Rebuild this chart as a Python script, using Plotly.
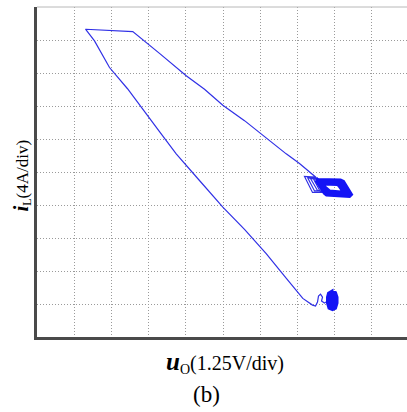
import plotly.graph_objects as go

# ---- data (oscilloscope divisions: x = u_O, y = i_L) ----
path_x = [7.836, 7.728, 7.648, 7.675, 7.621, 7.567, 7.540, 7.487, 7.406, 7.145, 6.653, 6.161,
          5.578, 4.995, 4.368, 3.742, 3.293, 2.935, 2.433, 1.949, 1.546, 1.304,
          1.949, 2.575,
          3.293, 4.011, 4.503, 4.995, 5.578, 6.070, 6.699, 7.056, 7.414,
          7.487, 7.728, 7.406, 7.191, 7.487,
          7.272, 7.540, 7.728, 7.460, 7.272,
          7.352, 7.567, 7.755, 7.540, 7.352,
          7.433, 7.594, 7.782, 7.621, 7.433,
          7.540]
path_y = [1.118, 1.027, 1.088, 1.208, 1.299, 1.239, 1.057, 0.937, 0.967, 1.169, 1.843, 2.529,
          3.263, 3.937, 4.743, 5.550, 6.224, 6.758, 7.523, 8.166, 8.973, 9.326,
          9.290, 9.254,
          8.595, 7.915, 7.508, 7.024, 6.556, 6.103, 5.550, 5.257, 4.894,
          4.849, 4.381, 4.381, 4.864, 4.849,
          4.834, 4.819, 4.426, 4.426, 4.834,
          4.804, 4.789, 4.411, 4.441, 4.804,
          4.789, 4.773, 4.350, 4.396, 4.789,
          4.773]

loop_x = [7.540, 8.159, 8.239, 8.454, 8.401, 7.782, 7.728, 7.513, 7.540,
          7.594, 8.132, 8.185, 8.374, 8.320, 7.809, 7.755, 7.567, 7.594,
          7.648, 8.105, 8.159, 8.293, 8.239, 7.836, 7.782, 7.621, 7.648,
          7.702, 8.078, 8.118, 8.212, 8.172, 7.863, 7.823, 7.675, 7.702]
loop_y = [4.773, 4.758, 4.713, 4.320, 4.260, 4.305, 4.350, 4.713, 4.773,
          4.728, 4.713, 4.668, 4.350, 4.305, 4.350, 4.396, 4.683, 4.728,
          4.683, 4.668, 4.622, 4.381, 4.350, 4.396, 4.441, 4.637, 4.683,
          4.637, 4.622, 4.577, 4.426, 4.396, 4.426, 4.471, 4.607, 4.637]

blob_x = [7.930, 8.024, 8.065, 8.065, 8.024, 7.944, 7.849, 7.809, 7.809, 7.836, 7.930,
          7.930, 7.997, 8.011, 7.997, 7.944, 7.876, 7.863, 7.876, 7.930,
          7.930, 7.962, 7.957, 7.917, 7.903, 7.930, 7.836]
blob_y = [1.390, 1.344, 1.208, 1.027, 0.876, 0.831, 0.876, 1.027, 1.208, 1.329, 1.390,
          1.299, 1.254, 1.118, 0.967, 0.921, 0.967, 1.118, 1.239, 1.299,
          1.208, 1.148, 1.027, 0.997, 1.118, 1.208, 1.118]

x_title = "<b><i><span style='font-size:25px'>u</span></i></b><sub>O</sub>(1.25V/div)"
y_title = "<b><i><span style='font-size:21px'>i</span></i></b><sub>L</sub>(4A/div)"
panel_label = "(b)"

BLUE = "#1414f5"
FONT = "Liberation Serif"

fig = go.Figure()
fig.add_trace(go.Scatter(x=path_x, y=path_y, mode="lines",
                         line=dict(color="#3030e6", width=1.2), hoverinfo="skip"))
fig.add_trace(go.Scatter(x=loop_x, y=loop_y, mode="lines",
                         line=dict(color=BLUE, width=3), hoverinfo="skip"))
fig.add_trace(go.Scatter(x=blob_x, y=blob_y, mode="lines",
                         line=dict(color=BLUE, width=3), hoverinfo="skip"))

axis_common = dict(showticklabels=False, ticks="", zeroline=False,
                   showgrid=True, gridcolor="#9a9a9a", gridwidth=1, griddash="1px,2px",
                   dtick=1, tick0=0, showline=True, linecolor="#4a4a4a", fixedrange=True)

fig.update_layout(
    width=407, height=412,
    margin=dict(l=37, r=0, t=7, b=75),
    paper_bgcolor="white", plot_bgcolor="white",
    showlegend=False,
    xaxis=dict(range=[0, 9.946], linewidth=3, **axis_common),
    yaxis=dict(range=[0, 10], linewidth=2.5, **axis_common),
    font=dict(family=FONT, color="black"),
    shapes=[dict(type="line", xref="paper", yref="paper", x0=0, x1=1, y0=1, y1=1,
                 line=dict(color="#b8b8b8", width=1))],
    annotations=[
        dict(text=y_title, xref="paper", yref="paper", x=-0.040, y=0.49,
             xanchor="center", yanchor="middle", textangle=-90, showarrow=False,
             font=dict(family=FONT, size=17, color="black")),
        dict(text=x_title, xref="paper", yref="paper", x=0.508, y=-0.076,
             xanchor="center", yanchor="middle", showarrow=False,
             font=dict(family=FONT, size=20, color="black")),
        dict(text=panel_label, xref="paper", yref="paper", x=0.457, y=-0.173,
             xanchor="center", yanchor="middle", showarrow=False,
             font=dict(family=FONT, size=23, color="black")),
    ],
)

fig.write_html("out.html")
